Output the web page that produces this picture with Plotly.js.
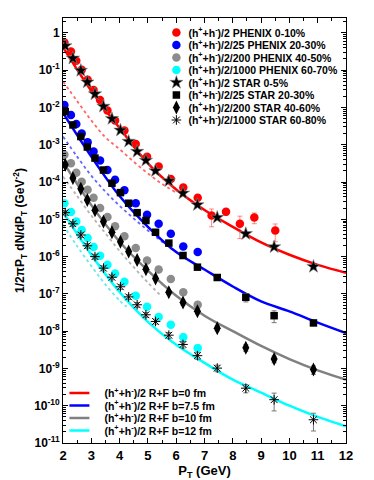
<!DOCTYPE html>
<html>
<head>
<meta charset="utf-8">
<script src="https://cdn.plot.ly/plotly-3.0.1.min.js"></script>
<style>
  body { margin: 0; background: #fff; }
  #chart { width: 374px; height: 480px; }
</style>
</head>
<body>
<div id="chart"></div>
<script>
// PHENIX data, pT in GeV
const phenixPt = [2.05, 2.28, 2.47, 2.66, 2.87, 3.08, 3.31, 3.57, 3.84, 4.17, 4.57, 4.97, 5.38, 5.81, 6.25, 6.76, 7.25, 7.76, 8.25, 8.76, 9.5];
const phenix0_10 = [0.55, 0.316, 0.178, 0.102, 5.5e-2, 2.95e-2, 1.58e-2, 8.3e-3, 4.5e-3, 2.4e-3, 1.05e-3, 4.8e-4, 2.6e-4, 1.2e-4, 7.1e-5, 3.8e-5, 1.26e-5, 1.6e-5, 7.6e-6, 1.12e-5, 5.0e-6];
const phenix0_10Err = [0.03, 0.03, 0.03, 0.03, 0.03, 0.03, 0.03, 0.03, 0.03, 0.03, 0.04, 0.05, 0.05, 0.08, 0.1, 0.15, 0.5, 0.2, 0.6, 0.32, 0.5];
const phenix20_30 = [1.17e-2, 6.3e-3, 3.6e-3, 2.0e-3, 1.17e-3, 6.6e-4, 3.8e-4, 2.1e-4, 1.15e-4, 6.0e-5, 2.7e-5, 1.32e-5, 7.6e-6, 4.1e-6, 1.86e-6, 1.32e-6];
const phenix40_50 = [5.4e-4, 3.2e-4, 1.78e-4, 1.02e-4, 6.2e-5, 3.8e-5, 2.0e-5, 1.15e-5, 6.5e-6, 3.5e-6, 1.7e-6, 7.9e-7, 4.5e-7, 2.5e-7, 1.1e-7, 5.1e-8];
const phenix40_50Err = [0, 0, 0, 0, 0, 0, 0, 0, 0, 0, 0, 0, 0, 0, 0.1, 0.2];
const phenix60_70 = [2.7e-5, 1.58e-5, 8.7e-6, 5.2e-6, 3.16e-6, 1.82e-6, 1.05e-6, 6.0e-7, 3.5e-7, 2.1e-7, 8.9e-8, 4.5e-8, 2.4e-8, 1.48e-8, 6.9e-9, 3.5e-9];
const phenix60_70Err = [0, 0, 0, 0, 0, 0, 0, 0, 0, 0, 0, 0, 0, 0.1, 0.25, 0.25];

// STAR data
const starPt = [2.08, 2.35, 2.63, 2.86, 3.13, 3.43, 3.73, 4.03, 4.32, 4.62, 4.93, 5.27, 5.74, 6.24, 6.75, 7.45, 8.46, 9.46, 10.85];
const star0_5 = [0.447, 0.209, 9.8e-2, 4.8e-2, 2.3e-2, 1.07e-2, 5.0e-3, 2.45e-3, 1.23e-3, 6.6e-4, 3.8e-4, 2.0e-4, 1.07e-4, 5.0e-5, 2.45e-5, 1.12e-5, 4.1e-6, 1.82e-6, 5.4e-7];
const star0_5Err = [0.05, 0.05, 0.05, 0.05, 0.05, 0.05, 0.05, 0.05, 0.05, 0.05, 0.05, 0.05, 0.05, 0.06, 0.08, 0.08, 0.1, 0.12, 0.14];
const star20_30 = [7.8e-3, 3.4e-3, 1.66e-3, 8.7e-4, 4.4e-4, 2.1e-4, 9.3e-5, 5.2e-5, 2.7e-5, 1.51e-5, 9.3e-6, 4.5e-6, 2.3e-6, 1.07e-6, 5.2e-7, 2.75e-7, 8.1e-8, 2.6e-8, 1.66e-8];
const star20_30Err = [0.05, 0.05, 0.05, 0.05, 0.05, 0.05, 0.05, 0.05, 0.05, 0.05, 0.05, 0.05, 0.06, 0.08, 0.1, 0.1, 0.25, 0.35, 0.12];
const star40_60 = [2.9e-4, 1.29e-4, 6.6e-5, 3.3e-5, 1.74e-5, 8.7e-6, 4.5e-6, 2.5e-6, 1.38e-6, 8.1e-7, 4.6e-7, 2.6e-7, 1.1e-7, 5.9e-8, 3.4e-8, 1.2e-8, 3.6e-9, 1.78e-9, 9.3e-10];
const star40_60Err = [0.06, 0.06, 0.06, 0.06, 0.06, 0.06, 0.06, 0.06, 0.08, 0.08, 0.1, 0.1, 0.12, 0.15, 0.15, 0.15, 0.2, 0.2, 0.25];
const star60_80 = [1.51e-5, 7.6e-6, 3.8e-6, 1.95e-6, 1.0e-6, 4.9e-7, 2.8e-7, 1.55e-7, 8.3e-8, 5.1e-8, 2.75e-8, 1.82e-8, 7.8e-9, 4.4e-9, 2.2e-9, 1.02e-9, 2.95e-10, 1.45e-10, 4.2e-11];
const star60_80Err = [0.15, 0.15, 0.15, 0.15, 0.15, 0.15, 0.15, 0.15, 0.15, 0.15, 0.15, 0.15, 0.18, 0.2, 0.2, 0.2, 0.25, 0.5, 0.5];

// R+F model curves
const modelPt = [2, 3, 4, 5, 6, 7, 8, 9, 10, 11, 12];
const modelB0 = [0.417, 2.8e-2, 2.8e-3, 3.16e-4, 6.3e-5, 1.78e-5, 6.3e-6, 2.4e-6, 1.12e-6, 6.0e-7, 3.7e-7];
const modelB75 = [7.1e-3, 4.8e-4, 4.2e-5, 6.3e-6, 1.32e-6, 4.5e-7, 1.58e-7, 6.3e-8, 3.4e-8, 1.7e-8, 8.9e-9];
const modelB10 = [3.5e-4, 2.4e-5, 2.5e-6, 4.2e-7, 8.9e-8, 2.6e-8, 1.0e-8, 4.0e-9, 1.78e-9, 8.9e-10, 5.0e-10];
const modelB12 = [1.58e-5, 1.12e-6, 1.12e-7, 1.78e-8, 4.3e-9, 1.41e-9, 5.0e-10, 2.24e-10, 1.0e-10, 5.0e-11, 2.8e-11];

// dotted curves (low pT part)
const dotPt = [2, 2.5, 3, 3.5, 4, 4.5, 5, 5.5, 6];
const dotB0 = [5.0e-2, 1.48e-2, 4.5e-3, 1.58e-3, 7.6e-4, 3.5e-4, 1.7e-4, 8.9e-5, 5.2e-5];
const dotB75 = [1.66e-3, 4.8e-4, 1.48e-4, 5.5e-5, 2.3e-5, 1.05e-5, 5.0e-6, 2.5e-6, 1.32e-6];
const dotB10 = [1.41e-4, 4.2e-5, 1.26e-5, 4.2e-6, 1.41e-6, 5.2e-7, 2.0e-7, 8.3e-8];
const dotB12 = [7.1e-6, 1.9e-6, 5.6e-7, 1.78e-7, 6.6e-8, 4.5e-8];
const dotB12Pt = [2, 2.5, 3, 3.5, 4, 4.25];

const hh = "(h<sup>+</sup>+h<sup>-</sup>)/2";

function errs(vals, rel, color) {
    if (!rel) return {visible: false};
    return {type: "data", array: vals.map((v, i) => v * rel[i]), visible: true,
        color: color, thickness: 1, width: 2.5};
}

function dotted(x, y, color) {
    return {x: x, y: y, mode: "lines", showlegend: false, hoverinfo: "skip",
        line: {color: color, width: 1.8, dash: "dot", shape: "spline"}};
}

function model(y, color, label) {
    return {x: modelPt, y: y, mode: "lines", name: "<b>" + hh + " R+F " + label + "</b>",
        legend: "legend2", line: {color: color, width: 2.5, shape: "spline"}};
}

function points(x, y, rel, name, marker, errColor) {
    return {x: x, y: y, mode: "markers", name: "<b>" + name + "</b>", marker: marker,
        error_y: errs(y, rel, errColor)};
}

let graphData = [
    dotted(dotPt, dotB0, "rgba(255,0,0,0.6)"),
    dotted(dotPt, dotB75, "rgba(0,0,255,0.6)"),
    dotted(dotPt.slice(0, 8), dotB10, "rgba(128,128,128,0.6)"),
    dotted(dotB12Pt, dotB12, "rgba(0,220,220,0.6)"),
    model(modelB0, "#ff0000", "b=0 fm"),
    model(modelB75, "#0000ff", "b=7.5 fm"),
    model(modelB10, "#808080", "b=10 fm"),
    model(modelB12, "#00ffff", "b=12 fm"),
    points(phenixPt, phenix0_10, phenix0_10Err, hh + " PHENIX 0-10%",
        {symbol: "circle", size: 8.5, color: "#ff0000"}, "rgba(255,0,0,0.45)"),
    points(phenixPt.slice(0, 16), phenix20_30, null, hh + "/25 PHENIX 20-30%",
        {symbol: "circle", size: 8.5, color: "#0000ff"}),
    points(phenixPt.slice(0, 16), phenix40_50, phenix40_50Err, hh + "/200 PHENIX 40-50%",
        {symbol: "circle", size: 8.5, color: "#8c8c8c"}, "#999"),
    points(phenixPt.slice(0, 16), phenix60_70, phenix60_70Err, hh + "/1000 PHENIX 60-70%",
        {symbol: "circle", size: 8.5, color: "#00ffff"}, "#7fd"),
    points(starPt, star0_5, star0_5Err, hh + " STAR 0-5%",
        {symbol: "star", size: 10, color: "#000", line: {color: "#888", width: 0.6}}, "#777"),
    points(starPt, star20_30, star20_30Err, hh + "/25 STAR 20-30%",
        {symbol: "square", size: 7.5, color: "#000"}, "#777"),
    points(starPt, star40_60, star40_60Err, hh + "/200 STAR 40-60%",
        {symbol: "diamond-tall", size: 10, color: "#000"}, "#777"),
    points(starPt, star60_80, star60_80Err, hh + "/1000 STAR 60-80%",
        {symbol: "asterisk-open", size: 8, color: "#000", line: {color: "#000", width: 1}}, "#777"),
];

// axis scaffolding
let yTicks = [], yText = [], yMinor = [];
for (let d = 0; d >= -11; d--) {
    yTicks.push(Math.pow(10, d));
    yText.push(d === 0 ? "<b>1</b>" : "<b>10<sup>" + d + "</sup></b>");
    for (let k = 2; k <= 9; k++) yMinor.push(k * Math.pow(10, d - 1));
}
yMinor.push(2);
let xTicks = [2, 3, 4, 5, 6, 7, 8, 9, 10, 11, 12];

let graphLayout = {
    width: 374,
    height: 480,
    margin: {l: 63, r: 28, t: 18, b: 37},
    paper_bgcolor: "#fff",
    plot_bgcolor: "#fff",
    font: {family: "Liberation Sans, Arial, sans-serif", color: "#000", size: 12},
    showlegend: true,
    xaxis: {
        range: [2, 12],
        tickvals: xTicks,
        ticktext: xTicks.map(v => "<b>" + v + "</b>"),
        tickfont: {size: 13},
        ticks: "inside", ticklen: 5, tickcolor: "#000",
        minor: {dtick: 0.5, ticks: "inside", ticklen: 3, tickcolor: "#000"},
        showline: true, linecolor: "#000", linewidth: 1, mirror: "allticks",
        showgrid: false, zeroline: false,
        title: {text: "<b>P<sub>T</sub> (GeV)</b>", font: {size: 13}, standoff: 4},
    },
    yaxis: {
        type: "log",
        range: [-11, 0.4],
        tickvals: yTicks,
        ticktext: yText,
        tickfont: {size: 12},
        ticks: "inside", ticklen: 5, tickcolor: "#000",
        minor: {tickvals: yMinor, ticks: "inside", ticklen: 3, tickcolor: "#000"},
        showline: true, linecolor: "#000", linewidth: 1, mirror: "allticks",
        showgrid: false, zeroline: false,
        title: {text: "<b>1/2πP<sub>T</sub> dN/dP<sub>T</sub> (GeV<sup>-2</sup>)</b>", font: {size: 12}, standoff: 6},
    },
    legend: {
        x: 0.33, y: 1.0, xanchor: "left", yanchor: "top",
        bgcolor: "rgba(0,0,0,0)", borderwidth: 0,
        font: {size: 10.5}, traceorder: "normal",
    },
    legend2: {
        x: 0.005, y: 0.152, xanchor: "left", yanchor: "top",
        bgcolor: "rgba(0,0,0,0)", borderwidth: 0,
        font: {size: 10.5}, traceorder: "normal",
    },
};

// plotly keeps legend rows at least 19px high and keys 30px wide,
// the figure uses ~12.5px rows and short keys
function tightenLegends(gd, spacing) {
    ["legend", "legend2"].forEach(function (cls) {
        const root = gd.querySelector("g." + cls);
        if (!root) return;
        const items = root.querySelectorAll("g.traces");
        let y0 = null;
        items.forEach(function (it, i) {
            const f = it.getCTM().f;
            if (y0 === null) y0 = f;
            const delta = y0 + i * spacing - f;
            const t = it.transform.baseVal.consolidate();
            const tx = t ? t.matrix.e : 0;
            const ty = t ? t.matrix.f : 0;
            it.setAttribute("transform", "translate(" + tx + "," + (ty + delta) + ")");
            const txt = it.querySelector("text.legendtext");
            const shift = cls === "legend" ? 8 : 10;
            if (txt) txt.setAttribute("x", parseFloat(txt.getAttribute("x")) - shift);
            if (cls === "legend2") {
                it.querySelectorAll("path.js-line").forEach(p => p.setAttribute("d", "M5,0h20"));
            }
        });
    });
}

Plotly.newPlot("chart", graphData, graphLayout, {displayModeBar: false, staticPlot: true})
    .then(function (gd) { tightenLegends(gd, 12.5); });
</script>
</body>
</html>
